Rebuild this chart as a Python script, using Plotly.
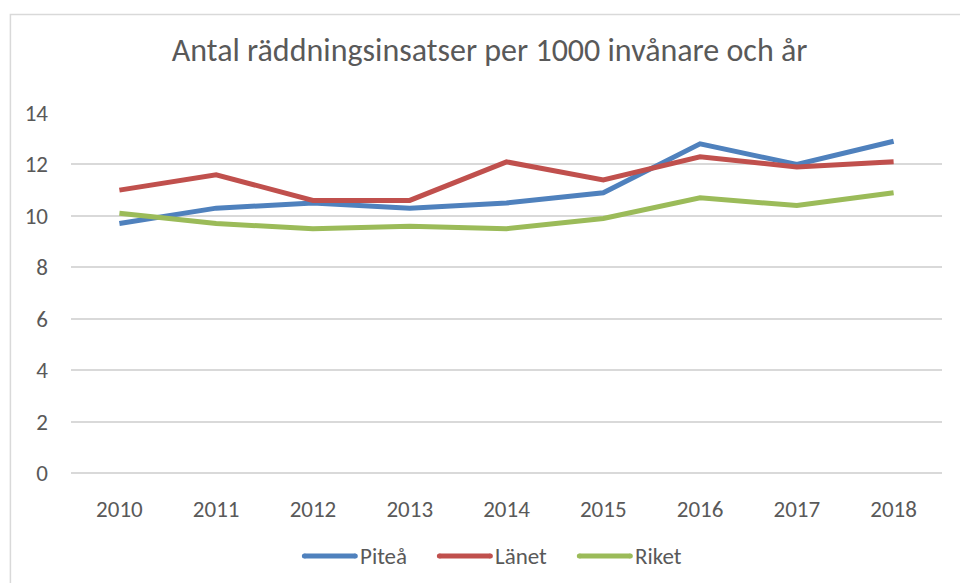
import plotly.graph_objects as go

years = ["2010", "2011", "2012", "2013", "2014", "2015", "2016", "2017", "2018"]
pitea = [9.7, 10.3, 10.5, 10.3, 10.5, 10.9, 12.8, 12.0, 12.9]
lanet = [11.0, 11.6, 10.6, 10.6, 12.1, 11.4, 12.3, 11.9, 12.1]
riket = [10.1, 9.7, 9.5, 9.6, 9.5, 9.9, 10.7, 10.4, 10.9]

series = [("Piteå", pitea, "#4F81BD"), ("Länet", lanet, "#C0504D"), ("Riket", riket, "#9BBB59")]

FONT = "Calibri, Carlito, 'Liberation Sans', Arial, sans-serif"
TXT = "#595959"

fig = go.Figure()
for name, vals, col in series:
    fig.add_trace(go.Scatter(x=years, y=vals, name=name, mode="lines",
                             line=dict(color=col, width=5), showlegend=False))

W, H = 960, 583
L, R, T, B = 70.6, 18.3, 113, 110
pw = W - L - R
ph = H - T - B


def px(x):
    return (x - L) / pw


def py(y):
    return (H - B - y) / ph


shapes = [dict(type="rect", xref="paper", yref="paper",
               x0=px(10), x1=px(W + 10), y0=py(H + 20), y1=py(14.5),
               line=dict(color="#D9D9D9", width=1.5), fillcolor="rgba(0,0,0,0)",
               layer="below")]
annotations = []
# legend drawn below the plot
leg_line_x = [302, 437, 577]
leg_text_x = [359, 494, 634]
leg_y = 556
for (name, _, col), lx, tx in zip(series, leg_line_x, leg_text_x):
    shapes.append(dict(type="line", xref="paper", yref="paper",
                       x0=px(lx + 2), x1=px(lx + 53), y0=py(leg_y), y1=py(leg_y),
                       line=dict(color=col, width=5)))
    for cx in (lx + 2, lx + 53):
        shapes.append(dict(type="circle", xref="paper", yref="paper",
                           x0=px(cx - 2.5), x1=px(cx + 2.5),
                           y0=py(leg_y + 2.5), y1=py(leg_y - 2.5),
                           line=dict(width=0), fillcolor=col))
    annotations.append(dict(text=name, xref="paper", yref="paper",
                            x=px(tx), y=py(leg_y), xanchor="left", yanchor="middle",
                            showarrow=False, borderpad=0,
                            font=dict(size=23, color=TXT, family=FONT)))

fig.update_layout(
    width=W, height=H,
    margin=dict(l=L, r=R, t=T, b=B, autoexpand=False),
    paper_bgcolor="white", plot_bgcolor="white",
    font=dict(family=FONT, color=TXT, size=23),
    title=dict(text="Antal räddningsinsatser per 1000 invånare och år",
               x=0.51, xanchor="center", y=1 - 50 / H, yanchor="middle",
               font=dict(size=32, color=TXT, family=FONT)),
    showlegend=False,
    xaxis=dict(type="category", range=[-0.5, 8.5], showgrid=False,
               showline=False, zeroline=False, ticks="",
               ticklabelstandoff=20, tickfont=dict(size=23, color=TXT)),
    yaxis=dict(range=[0, 14], dtick=2, tick0=0, showgrid=True,
               gridcolor="#D9D9D9", gridwidth=1.5, zeroline=True,
               zerolinecolor="#D9D9D9", zerolinewidth=1.5,
               showline=False, ticks="", ticklabelstandoff=22,
               tickfont=dict(size=23, color=TXT)),
    shapes=shapes,
    annotations=annotations,
)

fig.write_html("out.html", config={"displayModeBar": False},
               post_script="document.body.style.margin='0px';document.body.style.overflow='hidden';")
